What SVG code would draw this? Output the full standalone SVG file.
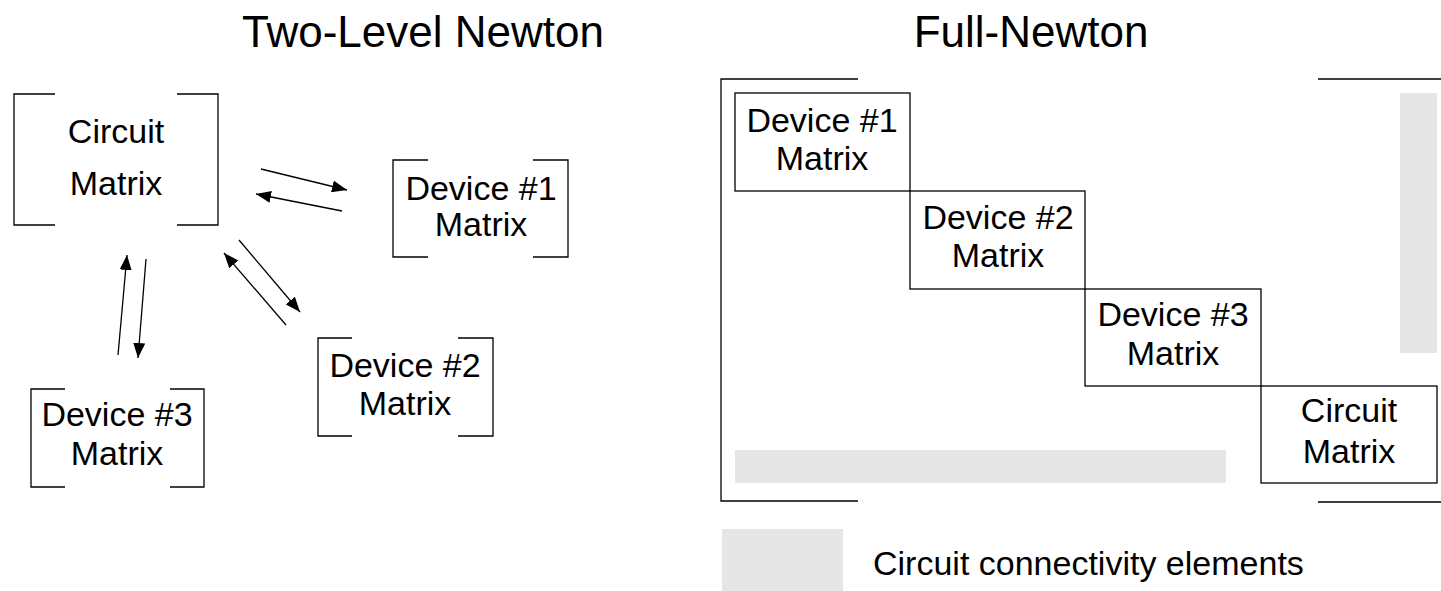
<svg xmlns="http://www.w3.org/2000/svg" width="1441" height="591" viewBox="0 0 1441 591">
<style>
.t{font-family:"Liberation Sans",Arial,sans-serif;font-size:34px;fill:#000;text-anchor:middle}
.title{font-family:"Liberation Sans",Arial,sans-serif;font-size:44px;fill:#000;text-anchor:middle}
.br{fill:none;stroke:#000;stroke-width:1.3}
.box{fill:none;stroke:#000;stroke-width:1.3}
.gray{fill:#e6e6e6}
.arr{stroke:#000;stroke-width:1.3;fill:none;marker-end:url(#ah)}
</style>
<defs>
<marker id="ah" markerUnits="userSpaceOnUse" markerWidth="15" markerHeight="12" refX="15" refY="6" orient="auto">
<path d="M0,0 L15,6 L0,12 z" fill="#000"/>
</marker>
</defs>
<rect width="1441" height="591" fill="#fff"/>
<text class="title" x="423" y="47">Two-Level Newton</text>
<text class="title" x="1031" y="47">Full-Newton</text>

<g id="tl-circuit">
<path class="br" d="M55,94 H14 V225 H55 M177,94 H218 V225 H177"/>
<text class="t" x="116" y="143">Circuit</text>
<text class="t" x="116" y="195">Matrix</text>
</g>
<g id="tl-device1">
<path class="br" d="M428,160 H393 V257 H428 M533,160 H568 V257 H533"/>
<text class="t" x="481" y="200">Device #1</text>
<text class="t" x="481" y="236">Matrix</text>
</g>
<g id="tl-device2">
<path class="br" d="M352,338 H318 V436 H352 M458,338 H493 V436 H458"/>
<text class="t" x="405" y="377">Device #2</text>
<text class="t" x="405" y="415">Matrix</text>
</g>
<g id="tl-device3">
<path class="br" d="M65,389 H31 V487 H65 M170,389 H204 V487 H170"/>
<text class="t" x="117" y="426">Device #3</text>
<text class="t" x="117" y="465">Matrix</text>
</g>

<g id="connectors">
<line class="arr" x1="261" y1="169" x2="347" y2="190"/>
<line class="arr" x1="342" y1="211" x2="256" y2="194"/>
<line class="arr" x1="239" y1="240" x2="300" y2="312"/>
<line class="arr" x1="286" y1="325" x2="224" y2="253"/>
<line class="arr" x1="118" y1="355" x2="127" y2="255"/>
<line class="arr" x1="146" y1="259" x2="138" y2="358"/>
</g>

<g id="fn-matrix">
<path class="br" d="M858,79 H721 V501 H858"/>
<path class="br" d="M1318,79 H1441 M1318,502 H1441"/>
<rect class="gray" x="1400" y="93" width="37" height="260"/>
<rect class="gray" x="735" y="450" width="491" height="33"/>
</g>
<g id="fn-device1">
<rect class="box" x="735" y="93" width="175" height="98"/>
<text class="t" x="822" y="132">Device #1</text>
<text class="t" x="822" y="170">Matrix</text>
</g>
<g id="fn-device2">
<rect class="box" x="910" y="191" width="175" height="98"/>
<text class="t" x="998" y="229">Device #2</text>
<text class="t" x="998" y="267">Matrix</text>
</g>
<g id="fn-device3">
<rect class="box" x="1085" y="289" width="176" height="97"/>
<text class="t" x="1173" y="326">Device #3</text>
<text class="t" x="1173" y="365">Matrix</text>
</g>
<g id="fn-circuit">
<rect class="box" x="1261" y="386" width="176" height="97"/>
<text class="t" x="1349" y="422">Circuit</text>
<text class="t" x="1349" y="463">Matrix</text>
</g>

<g id="legend">
<rect class="gray" x="722" y="529" width="121" height="62"/>
<text class="t" style="text-anchor:start" x="873" y="575">Circuit connectivity elements</text>
</g>
</svg>
